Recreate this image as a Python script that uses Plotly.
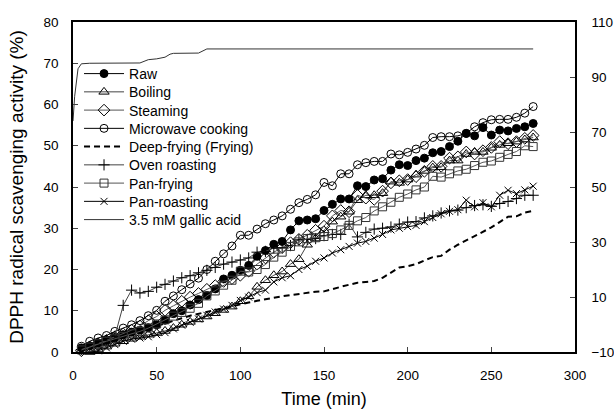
import plotly.graph_objects as go

time = list(range(5, 280, 5))

raw = [1.0, 1.5, 2.2, 2.8, 3.5, 4.2, 4.8, 5.3, 5.9, 6.6, 7.7, 9.3, 10.0, 11.4, 12.7, 13.7, 15.3, 17.7, 18.6, 19.8,
       21.0, 23.2, 24.6, 26.1, 26.8, 29.6, 31.8, 32.0, 32.3, 34.3, 35.8, 37.1, 37.1, 40.3, 40.1, 41.7, 42.0, 44.1,
       45.4, 45.2, 46.4, 47.0, 48.3, 48.6, 49.8, 51.1, 53.0, 52.4, 54.4, 52.6, 53.8, 53.6, 54.2, 54.6, 55.4]
boiling = [-0.5, 0.0, 0.6, 1.3, 2.0, 2.6, 3.2, 3.7, 4.2, 4.6, 5.1, 5.8, 6.6, 7.3, 7.9, 8.6, 9.4, 10.2, 11.0, 12.3,
           13.5, 15.8, 17.4, 18.6, 19.5, 21.3, 22.5, 26.0, 27.5, 29.5, 31.6, 32.8, 34.0, 36.8, 38.0, 38.0, 38.5, 41.3,
           41.0, 41.8, 43.0, 43.9, 44.7, 44.8, 46.4, 46.4, 48.0, 48.5, 48.5, 49.5, 50.2, 50.6, 51.0, 51.5, 52.0]
steaming = [0.3, 1.2, 2.0, 2.8, 3.6, 4.4, 5.3, 6.3, 7.6, 8.6, 10.1, 11.2, 12.3, 13.3, 14.2, 15.2, 16.1, 17.1, 17.8,
            18.6, 19.6, 21.3, 22.8, 24.2, 25.3, 26.5, 27.3, 28.3, 29.5, 30.5, 33.0, 34.3, 34.0, 38.0, 37.3, 37.0, 39.0,
            41.0, 41.5, 41.8, 42.5, 43.8, 45.0, 45.0, 47.0, 47.3, 48.5, 48.0, 48.8, 49.6, 51.0, 50.5, 51.0, 51.8, 52.5]
microwave = [1.4, 2.6, 3.4, 4.0, 5.0, 5.8, 6.6, 7.6, 8.8, 10.1, 12.3, 13.6, 15.1, 16.5, 17.9, 20.0, 22.0, 23.8, 25.7,
             28.3, 28.3, 29.8, 31.1, 32.0, 33.0, 34.6, 36.2, 37.0, 38.1, 41.1, 40.3, 43.2, 43.2, 45.4, 45.9, 46.2, 46.2,
             48.0, 47.8, 48.4, 49.2, 50.1, 52.0, 52.2, 52.2, 52.4, 53.0, 54.6, 55.6, 56.3, 56.4, 56.4, 56.9, 57.9, 59.5]
deep_frying = [0.2, 0.8, 1.5, 2.2, 2.9, 3.6, 4.3, 5.0, 5.7, 6.3, 6.9, 7.6, 8.2, 8.8, 9.3, 9.8, 10.2, 10.6, 11.1, 11.6,
               12.0, 12.4, 12.8, 13.2, 13.5, 13.8, 14.1, 14.4, 14.6, 14.7, 15.3, 15.8, 16.3, 16.8, 17.0, 17.2, 18.0,
               19.2, 20.5, 20.8, 21.3, 22.2, 23.0, 23.3, 24.8, 26.0, 27.0, 28.0, 29.0, 30.2, 31.5, 32.8, 32.9, 33.8, 34.2]
oven_roasting = [0.6, 1.2, 2.0, 2.8, 3.8, 11.3, 15.0, 14.3, 14.7, 15.7, 16.4, 17.2, 18.0, 18.5, 19.2, 19.8, 20.5, 21.3,
                 21.8, 22.3, 22.8, 24.2, 24.4, 25.2, 25.3, 25.8, 27.2, 27.3, 27.5, 28.2, 28.5, 28.5, 31.0, 27.9, 29.0,
                 29.8, 30.0, 30.3, 31.0, 31.5, 31.6, 32.5, 33.0, 33.7, 34.2, 34.4, 35.0, 35.5, 35.7, 35.3, 36.0, 36.5,
                 37.2, 38.0, 38.0]
pan_frying = [0.5, 1.2, 2.0, 2.6, 3.2, 3.8, 4.4, 5.0, 5.8, 6.8, 7.8, 8.7, 9.6, 10.6, 11.8, 13.6, 14.8, 16.2, 17.4, 19.6,
              19.4, 20.0, 21.2, 23.0, 24.2, 25.6, 26.7, 27.5, 27.7, 28.0, 28.7, 29.6, 30.7, 31.8, 32.6, 34.2, 35.2, 36.3,
              37.5, 38.3, 39.3, 40.0, 42.6, 42.4, 43.2, 43.9, 44.3, 45.2, 46.0, 46.3, 47.2, 47.9, 48.6, 50.0, 49.8]
pan_roasting = [-0.6, -0.2, 0.3, 1.0, 1.8, 2.6, 3.1, 3.4, 3.7, 4.2, 4.7, 5.6, 6.5, 7.2, 8.0, 8.9, 9.7, 10.4, 11.3, 12.5,
                13.3, 14.4, 15.0, 17.0, 18.0, 18.5, 20.0, 20.8, 22.0, 22.8, 24.0, 24.8, 25.6, 26.4, 26.8, 27.6, 28.5,
                29.6, 30.0, 30.4, 30.7, 31.6, 32.6, 33.5, 34.1, 34.5, 36.8, 35.2, 36.2, 35.2, 38.0, 39.2, 38.4, 39.3, 40.2]

gallic_time = [0, 1, 3, 5, 10, 20, 30, 40, 45, 50, 55, 58, 60, 75, 80, 100, 150, 200, 250, 275]
gallic = [74, 83, 93, 94.8, 95.0, 95.0, 95.0, 95.1, 96.3, 96.6, 97.2, 98.3, 98.6, 98.7, 100.2, 100.2, 100.2, 100.2,
          100.2, 100.2]

x_ticks = [0, 50, 100, 150, 200, 250, 300]
y2_ticks = [-10, 10, 30, 50, 70, 90, 110]

FONT = "Liberation Sans, Arial, sans-serif"

series = [
    ("Raw", raw, "circle", "black", "black", 8),
    ("Boiling", boiling, "triangle-up-open", "#444", "black", 9),
    ("Steaming", steaming, "diamond-open", "#555", "black", 9),
    ("Microwave cooking", microwave, "circle-open", "black", "black", 8),
    ("Deep-frying (Frying)", deep_frying, None, "black", "black", 0),
    ("Oven roasting", oven_roasting, "cross-thin-open", "#444", "black", 8),
    ("Pan-frying", pan_frying, "square-open", "#555", "#333", 8),
    ("Pan-roasting", pan_roasting, "x-thin-open", "black", "black", 7),
]

fig = go.Figure()
legend_layout = {}


def legend_key(i):
    return "legend" if i == 0 else f"legend{i + 1}"


def add_legend(i):
    center_px = 74 + i * 18.25
    legend_layout[legend_key(i)] = dict(
        x=0.012, y=(352 - center_px) / 330, xanchor="left", yanchor="middle",
        bgcolor="rgba(0,0,0,0)", font=dict(family=FONT, size=14), itemwidth=40, tracegroupgap=0)


for i, (name, vals, sym, lc, mc, ms) in enumerate(series):
    add_legend(i)
    if sym is None:
        fig.add_trace(go.Scatter(x=time, y=vals, name=name, mode="lines", legend=legend_key(i),
                                 line=dict(color=lc, width=2, dash="6px,4px"), cliponaxis=False))
    else:
        fig.add_trace(go.Scatter(x=time, y=vals, name=name, mode="lines+markers", legend=legend_key(i),
                                 line=dict(color=lc, width=1),
                                 marker=dict(symbol=sym, size=ms, color=mc, line=dict(color=mc, width=1)),
                                 cliponaxis=False))

gi = len(series)
add_legend(gi)
fig.add_trace(go.Scatter(x=gallic_time, y=gallic, name="3.5 mM gallic acid", mode="lines",
                         legend=legend_key(gi), line=dict(color="#333", width=1), yaxis="y2"))

fig.update_layout(
    width=614, height=413,
    margin=dict(l=73, r=39, t=22, b=61, autoexpand=False),
    paper_bgcolor="white", plot_bgcolor="white",
    font=dict(family=FONT, size=13.5, color="black"),
    showlegend=True,
    xaxis=dict(range=[0, 300], tickvals=x_ticks, ticks="inside", ticklen=5, automargin=False,
               showline=True, linecolor="black", linewidth=1.5, mirror=True, showgrid=False, zeroline=False,
               ticklabelstandoff=10, tickfont=dict(size=13.5),
               title=dict(text="Time (min)", font=dict(size=18), standoff=10)),
    yaxis=dict(range=[0, 80], dtick=10, ticks="inside", ticklen=5, showline=True, linecolor="black",
               automargin=False,
               linewidth=1.5, showgrid=False, zeroline=False, tickfont=dict(size=13.5), ticklabelstandoff=10,
               title=dict(text="DPPH radical scavenging activity (%)", font=dict(size=19), standoff=15)),
    yaxis2=dict(range=[-10, 110], tickvals=y2_ticks, overlaying="y", side="right", ticks="inside", ticklen=5,
                automargin=False,
                showline=True, linecolor="black", linewidth=1.5, showgrid=False, zeroline=False,
                tickfont=dict(size=13.5), ticklabelstandoff=12),
    **legend_layout,
)

fig.write_html("out.html", config={"displayModeBar": False},
               post_script="document.body.style.margin='0px';")
